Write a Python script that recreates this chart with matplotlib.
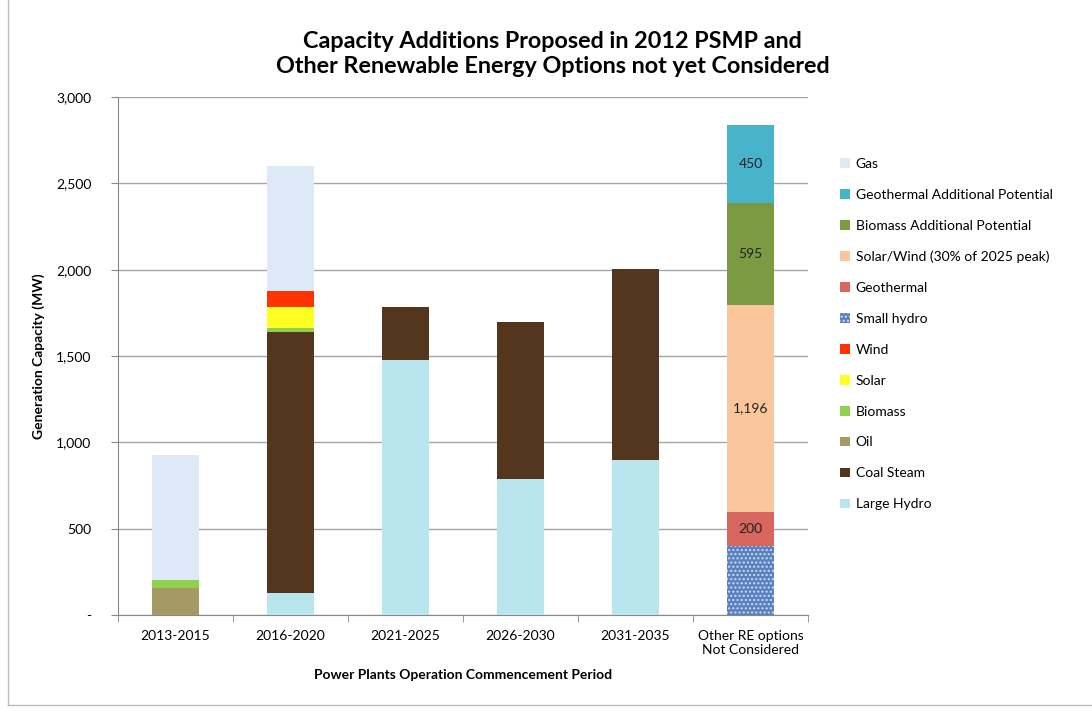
import numpy as np
import matplotlib
matplotlib.use("Agg")
import matplotlib.pyplot as plt
from matplotlib.lines import Line2D

plt.rcParams['font.family'] = ['Lato', 'DejaVu Sans']

categories = ["2013-2015", "2016-2020", "2021-2025", "2026-2030", "2031-2035",
              "Other RE options\nNot Considered"]

# stacked from bottom to top, values in MW
large_hydro = [0, 129, 1475, 787, 897, 0]
coal_steam = [0, 1511, 308, 909, 1106, 0]
oil = [155, 0, 0, 0, 0, 0]
biomass = [45, 23, 0, 0, 0, 0]
solar = [0, 122, 0, 0, 0, 0]
wind = [0, 92, 0, 0, 0, 0]
small_hydro = [0, 0, 0, 0, 0, 398]
geothermal = [0, 0, 0, 0, 0, 200]
solar_wind = [0, 0, 0, 0, 0, 1196]
biomass_add = [0, 0, 0, 0, 0, 595]
geothermal_add = [0, 0, 0, 0, 0, 450]
gas = [725, 723, 0, 0, 0, 0]

series = [
    ("Large Hydro", large_hydro, "#b9e6ee", None),
    ("Coal Steam", coal_steam, "#54361f", None),
    ("Oil", oil, "#a59a66", None),
    ("Biomass", biomass, "#92d050", None),
    ("Solar", solar, "#ffff22", None),
    ("Wind", wind, "#ff3300", None),
    ("Small hydro", small_hydro, "#5a80c2", "...."),
    ("Geothermal", geothermal, "#d6665e", None),
    ("Solar/Wind (30% of 2025 peak)", solar_wind, "#fcc69c", None),
    ("Biomass Additional Potential", biomass_add, "#7b9a41", None),
    ("Geothermal Additional Potential", geothermal_add, "#48b4cc", None),
    ("Gas", gas, "#dde9f6", None),
]
labelled = ["Geothermal", "Solar/Wind (30% of 2025 peak)",
            "Biomass Additional Potential", "Geothermal Additional Potential"]

fig = plt.figure(figsize=(10.92, 7.2), dpi=100)
ax = fig.add_axes([0.108, 0.146, 0.632, 0.719])

x = np.arange(len(categories))
bottom = np.zeros(len(categories))
handles = []
for name, vals, col, hatch in series:
    vals = np.array(vals, dtype=float)
    ax.bar(x, vals, 0.41, bottom=bottom, color=col,
           edgecolor=col if hatch is None else "#cfdcf0",
           linewidth=0, hatch=hatch, zorder=3)
    if name in labelled:
        for xi, v, b in zip(x, vals, bottom):
            if v > 0:
                ax.text(xi, b + v / 2, f"{int(v):,}", ha="center", va="center",
                        fontsize=10, color="#222222", zorder=4)
    handles.append((name, col, hatch))
    bottom += vals

ax.set_xlim(-0.5, len(categories) - 0.5)
ax.set_ylim(0, 3000)
ax.set_yticks(np.arange(0, 3001, 500))
ax.set_yticklabels(["-"] + [f"{v:,}" for v in range(500, 3001, 500)], fontsize=10)
ax.set_xticks(x)
ax.set_xticklabels(categories, fontsize=10)
ax.set_xticks(np.arange(-0.5, len(categories), 1), minor=True)
ax.tick_params(axis="x", which="major", length=0, pad=11)
ax.tick_params(axis="x", which="minor", length=5, color="#888888")
ax.tick_params(axis="y", length=5, color="#888888", pad=14)
ax.grid(axis="y", color="#a6a6a6", linewidth=1, zorder=0)
for s in ["top", "right"]:
    ax.spines[s].set_visible(False)
for s in ["left", "bottom"]:
    ax.spines[s].set_color("#888888")

ax.set_ylabel("Generation Capacity (MW)", fontsize=10, fontweight="bold", labelpad=8)
ax.set_xlabel("Power Plants Operation Commencement Period", fontsize=10,
              fontweight="bold", labelpad=9)

fig.text(0.506, 0.925, "Capacity Additions Proposed in 2012 PSMP and\n"
         "Other Renewable Energy Options not yet Considered",
         ha="center", va="center", fontsize=16.8, fontweight="bold",
         linespacing=1.2)

# legend, top entry first
leg_handles = [plt.Rectangle((0, 0), 1, 1, facecolor=c, edgecolor="#cfdcf0" if h else c,
                             hatch=h, linewidth=0) for _, c, h in handles[::-1]]
leg_names = [n for n, _, _ in handles[::-1]]
fig.legend(leg_handles, leg_names, loc="upper left", bbox_to_anchor=(0.758, 0.798),
           frameon=False, fontsize=10, handlelength=0.7, handleheight=0.7,
           labelspacing=1.36, handletextpad=0.4)

# outer frame
fig.add_artist(Line2D([8 / 1092, 8 / 1092], [15 / 720, 1], color="#bbbbbb",
                      linewidth=1, transform=fig.transFigure))
fig.add_artist(Line2D([8 / 1092, 1], [15 / 720, 15 / 720], color="#bbbbbb",
                      linewidth=1, transform=fig.transFigure))

fig.savefig("out.png", dpi=100)
